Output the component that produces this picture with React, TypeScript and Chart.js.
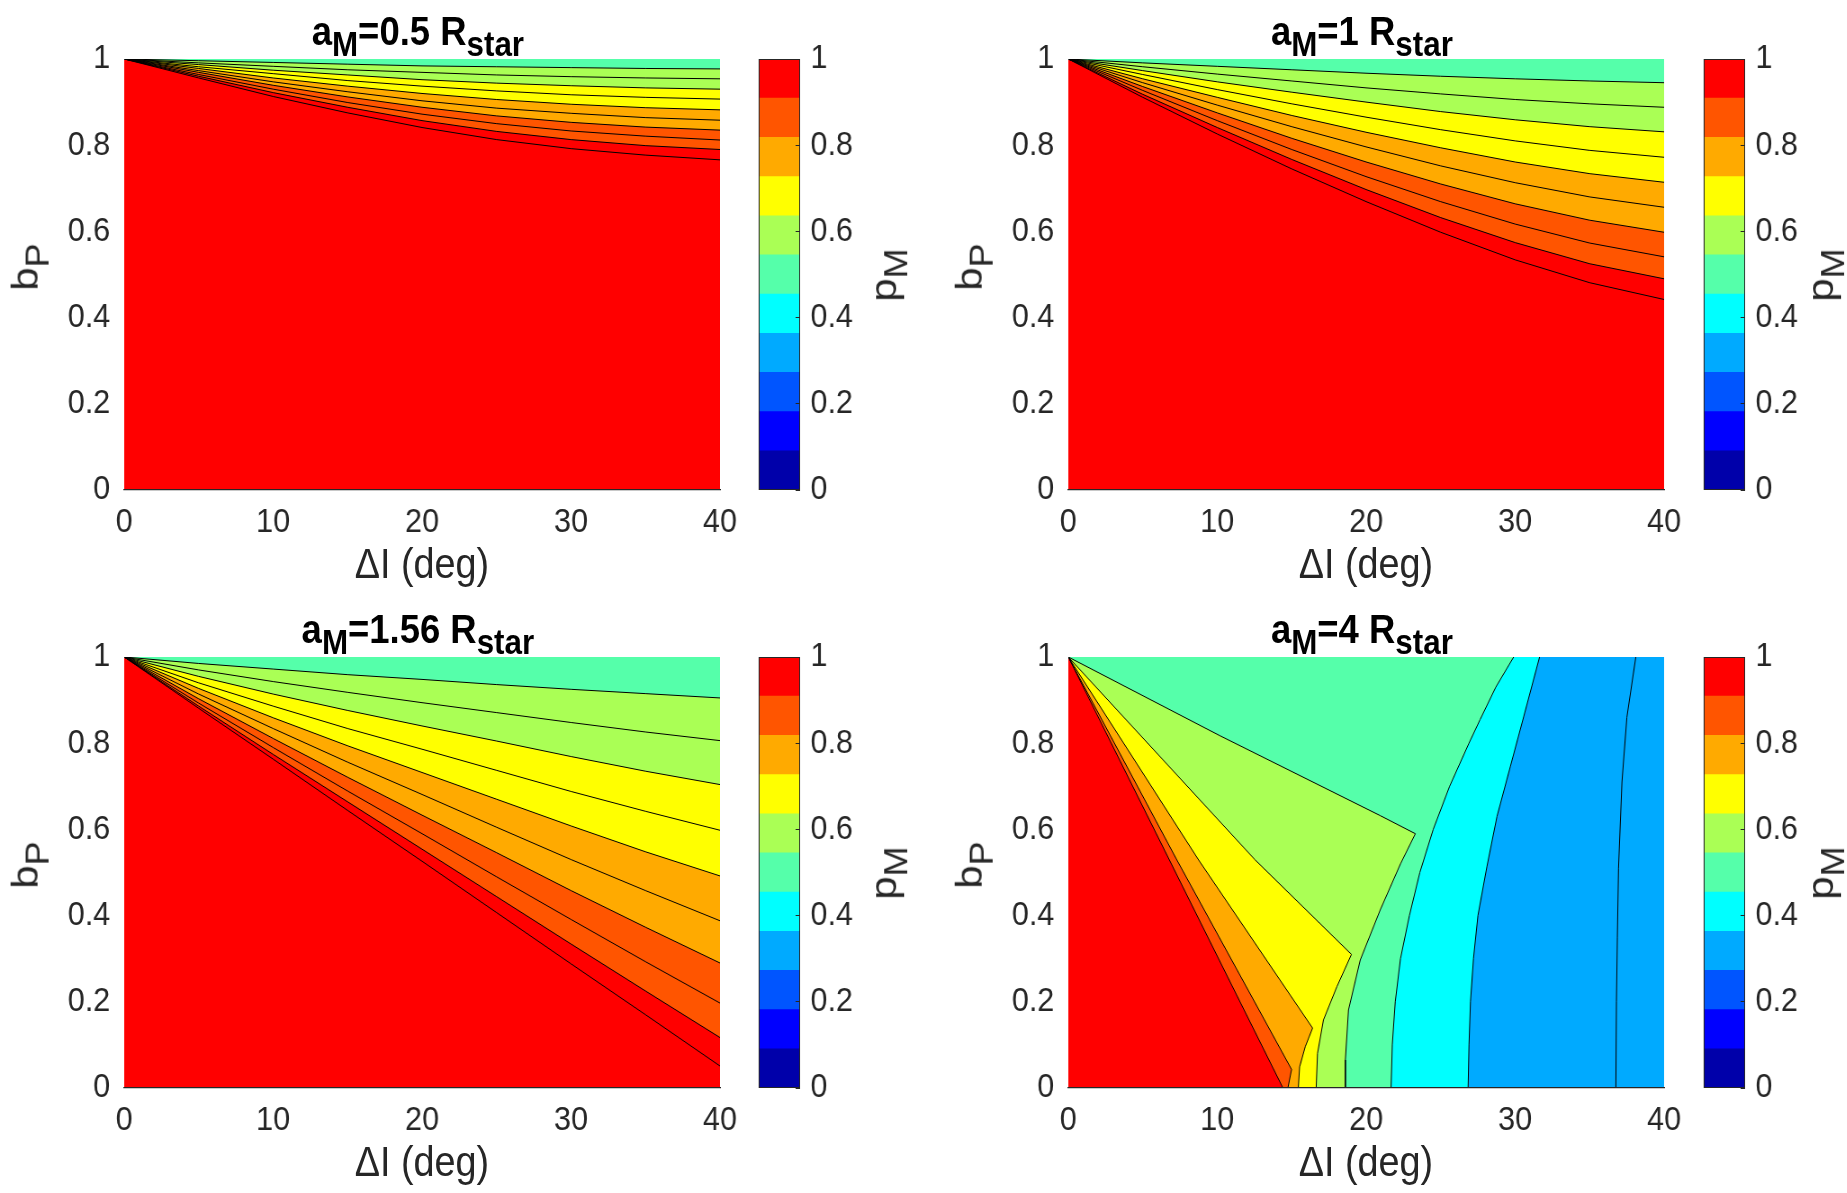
import React, { useEffect, useRef } from 'react';
import { Chart, registerables } from 'chart.js';

Chart.register(...registerables);

// ---------------- values ----------------
const aMValues = ['0.5', '1', '1.56', '4'];
const xTickValues = [0, 10, 20, 30, 40];
const yTickValues = [0, 0.2, 0.4, 0.6, 0.8, 1];
const colorbarTickValues = [0, 0.2, 0.4, 0.6, 0.8, 1];
// MATLAB jet(11) colormap, caxis [0 1]
const jet11 = ['#0000AA', '#0000FF', '#0055FF', '#00AAFF', '#00FFFF', '#55FFAA', '#AAFF55', '#FFFF00', '#FFAA00', '#FF5500', '#FF0000'];
const levelStep = 0.05;
const plateauValue = 1;
const domainX = [0, 40];
const domainY = [0, 1];

// contour sample positions (ΔI, deg) for panels 1-3
const sampleDI = [0, 5, 10, 15, 20, 25, 30, 35, 40];

// panel 1: a_M = 0.5 R_star  (b_P of each contour at sampleDI)
const panel1Levels = [0.55, 0.6, 0.65, 0.7, 0.75, 0.8, 0.85, 0.9, 0.95, 1.0];
const panel1B = [
  [1, 0.996, 0.992, 0.988, 0.984, 0.982, 0.980, 0.978, 0.977],
  [1, 0.991, 0.983, 0.975, 0.969, 0.963, 0.959, 0.956, 0.954],
  [1, 0.987, 0.974, 0.963, 0.952, 0.944, 0.938, 0.933, 0.930],
  [1, 0.982, 0.966, 0.950, 0.937, 0.926, 0.917, 0.911, 0.907],
  [1, 0.978, 0.956, 0.937, 0.920, 0.906, 0.895, 0.887, 0.882],
  [1, 0.973, 0.947, 0.924, 0.903, 0.886, 0.874, 0.864, 0.858],
  [1, 0.969, 0.939, 0.912, 0.888, 0.868, 0.853, 0.842, 0.835],
  [1, 0.964, 0.930, 0.899, 0.872, 0.850, 0.833, 0.821, 0.812],
  [1, 0.960, 0.922, 0.888, 0.857, 0.832, 0.813, 0.799, 0.790],
  [1, 0.956, 0.913, 0.875, 0.841, 0.813, 0.792, 0.777, 0.766],
];

// panel 2: a_M = 1 R_star
const panel2Levels = [0.55, 0.6, 0.65, 0.7, 0.75, 0.8, 0.85, 0.9, 0.95, 1.0];
const panel2B = [
  [1, 0.991, 0.983, 0.975, 0.967, 0.960, 0.954, 0.949, 0.945],
  [1, 0.982, 0.965, 0.949, 0.933, 0.919, 0.906, 0.896, 0.888],
  [1, 0.973, 0.947, 0.923, 0.900, 0.878, 0.859, 0.843, 0.831],
  [1, 0.964, 0.929, 0.896, 0.865, 0.836, 0.810, 0.788, 0.772],
  [1, 0.954, 0.911, 0.869, 0.830, 0.794, 0.761, 0.734, 0.714],
  [1, 0.945, 0.893, 0.843, 0.796, 0.752, 0.713, 0.680, 0.656],
  [1, 0.936, 0.875, 0.816, 0.761, 0.710, 0.664, 0.626, 0.598],
  [1, 0.927, 0.857, 0.790, 0.727, 0.669, 0.617, 0.573, 0.541],
  [1, 0.918, 0.841, 0.767, 0.697, 0.632, 0.574, 0.525, 0.490],
  [1, 0.911, 0.826, 0.745, 0.669, 0.598, 0.534, 0.481, 0.442],
];

// panel 3: a_M = 1.56 R_star
const panel3Levels = [0.55, 0.6, 0.65, 0.7, 0.75, 0.8, 0.85, 0.9, 0.95, 1.0];
const panel3B = [
  [1, 0.985, 0.972, 0.959, 0.948, 0.936, 0.925, 0.915, 0.905],
  [1, 0.970, 0.943, 0.918, 0.894, 0.871, 0.848, 0.826, 0.806],
  [1, 0.955, 0.914, 0.876, 0.840, 0.805, 0.769, 0.735, 0.704],
  [1, 0.940, 0.886, 0.834, 0.786, 0.737, 0.688, 0.642, 0.598],
  [1, 0.927, 0.859, 0.794, 0.732, 0.670, 0.608, 0.548, 0.492],
  [1, 0.914, 0.834, 0.756, 0.681, 0.605, 0.530, 0.458, 0.388],
  [1, 0.903, 0.811, 0.721, 0.633, 0.546, 0.458, 0.373, 0.290],
  [1, 0.893, 0.790, 0.689, 0.590, 0.490, 0.391, 0.293, 0.197],
  [1, 0.886, 0.774, 0.664, 0.554, 0.444, 0.334, 0.225, 0.117],
  [1, 0.881, 0.763, 0.644, 0.526, 0.407, 0.288, 0.170, 0.051],
];

// panel 4: a_M = 4 R_star  (contour paths: ΔI and b_P)
const panel4Levels = [0.95, 0.85, 0.75, 0.65, 0.55, 0.5, 0.4, 0.35];
const panel4DI = [
  [0, 14.41],
  [0, 7.29, 14.99, 14.74],
  [0, 8.75, 16.4, 15.91, 15.53, 15.44],
  [0, 12.55, 19.01, 18.03, 17.13, 16.73, 16.64],
  [0, 10.2, 20.94, 23.3, 22.3, 20.94, 19.6, 18.81, 18.6, 18.6],
  [21.67, 21.75, 21.95, 22.3, 22.9, 23.6, 24.5, 25.6, 26.9, 27.65, 28.7, 29.9],
  [26.84, 26.9, 27.0, 27.2, 27.5, 28.1, 28.78, 29.67, 30.57, 31.64],
  [36.76, 36.8, 36.86, 36.94, 37.17, 37.5, 38.1],
];
const panel4B = [
  [1, 0],
  [1, 0.529, 0.043, 0],
  [1, 0.529, 0.139, 0.096, 0.049, 0],
  [1, 0.529, 0.31, 0.235, 0.158, 0.08, 0],
  [1, 0.817, 0.632, 0.59, 0.52, 0.413, 0.297, 0.181, 0.065, 0],
  [0, 0.1, 0.2, 0.3, 0.4, 0.5, 0.6, 0.7, 0.8, 0.855, 0.93, 1],
  [0, 0.1, 0.2, 0.3, 0.4, 0.513, 0.63, 0.745, 0.861, 1],
  [0, 0.2, 0.35, 0.51, 0.71, 0.86, 1],
];

// ---------------- layout (page pixels) ----------------
const S = 0.9; // horizontal scale of the figure's text/graphics
const PAGE_W = 1847;
const PAGE_H = 1193;
const plotCols = [[124, 720], [1068, 1664]];
const plotRows = [[59, 490], [657, 1088]];
const cbarCols = [[758.5, 799.5], [1703.5, 1745]];
const cbarLabelX = [884, 1820.5];
const FONT = '"Liberation Sans", Arial, Helvetica, sans-serif';
const AX_COLOR = '#262626';
const TICK_PX = 34;
const LABEL_PX = 42;
const TITLE_PX = 40.5;
const ASC = 0.8465; // baseline offset in a line box of height 1em (Liberation Sans)

type Pt = { x: number; y: number };
type Contour = { level: number; pts: Pt[] };

function jetColor(v: number) {
  const n = jet11.length;
  const i = Math.max(0, Math.min(n - 1, Math.floor(v * n + 1e-9)));
  return jet11[i];
}

function gridContours(levels: number[], rows: number[][]): Contour[] {
  return levels.map((level, i) => ({ level, pts: sampleDI.map((x, j) => ({ x, y: rows[i][j] })) }));
}
function pathContours(levels: number[], xs: number[][], ys: number[][]): Contour[] {
  return levels.map((level, i) => ({ level, pts: xs[i].map((x, j) => ({ x, y: ys[i][j] })) }));
}

// close the low-p side of a contour along the domain's right edge
function closure(pts: Pt[]): Pt[] {
  const last = pts[pts.length - 1];
  const [, x1] = domainX;
  const [y0, y1] = domainY;
  if (last.x >= x1) return [{ x: x1, y: y1 }];
  if (last.y <= y0) return [{ x: x1, y: y0 }, { x: x1, y: y1 }];
  return [{ x: x1, y: y1 }, { x: x1, y: y0 }];
}

const NO_LINE = 'rgba(0,0,0,0)';

function contourDatasets(contours: Contour[]) {
  const ds: any[] = [];
  const [x0, x1] = domainX;
  const [y0, y1] = domainY;
  ds.push({
    data: [{ x: x0, y: y0 }, { x: x1, y: y0 }, { x: x1, y: y1 }, { x: x0, y: y1 }],
    fill: 'shape', backgroundColor: jetColor(plateauValue), borderColor: NO_LINE, borderWidth: 0, pointRadius: 0, order: 1000,
  });
  const sorted = [...contours].sort((a, b) => b.level - a.level);
  sorted.forEach((c, k) => {
    ds.push({
      data: [...c.pts, ...closure(c.pts)],
      fill: 'shape', backgroundColor: jetColor(c.level - levelStep), borderColor: NO_LINE, borderWidth: 0, pointRadius: 0, order: 900 - k,
    });
  });
  contours.forEach((c) => {
    ds.push({ data: c.pts, fill: false, borderColor: '#000000', borderWidth: 1, pointRadius: 0, order: 0 });
  });
  return ds;
}

const panels = [
  { col: 0, row: 0, aM: aMValues[0], contours: gridContours(panel1Levels, panel1B) },
  { col: 1, row: 0, aM: aMValues[1], contours: gridContours(panel2Levels, panel2B) },
  { col: 0, row: 1, aM: aMValues[2], contours: gridContours(panel3Levels, panel3B) },
  { col: 1, row: 1, aM: aMValues[3], contours: pathContours(panel4Levels, panel4DI, panel4B) },
];

const fmt = (v: number) => String(Math.round(v * 10) / 10);

// main plot geometry in un-scaled coordinates (padding kept larger than the
// axis label overhang so the chart area lands exactly where intended)
const Y_AXIS_W = 90, PAD_T = 50, X_AXIS_H = 90, PAD_R = 40;
function mainGeom(col: number, row: number) {
  const L = plotCols[col][0] / S;
  const plotW = Math.round((plotCols[col][1] - plotCols[col][0]) / S);
  const R = L + plotW;
  const T = plotRows[row][0], B = plotRows[row][1];
  const w = Y_AXIS_W + plotW + PAD_R;
  const h = PAD_T + (B - T) + X_AXIS_H;
  return { left: L - Y_AXIS_W, top: T - PAD_T, w, h, L, R, T, B };
}
const CB_AXIS_W = 90, CB_PAD = 50, CB_PAD_R = 10;
function cbarGeom(col: number, row: number) {
  const L = cbarCols[col][0] / S;
  const cw = Math.round((cbarCols[col][1] - cbarCols[col][0]) / S);
  const R = L + cw;
  const T = plotRows[row][0], B = plotRows[row][1];
  const w = cw + CB_AXIS_W + CB_PAD_R;
  const h = CB_PAD * 2 + (B - T);
  return { left: L, top: T - CB_PAD, w, h, L, R, T, B };
}

const tickFont = { family: FONT, size: TICK_PX };

function mainConfig(contours: Contour[]): any {
  return {
    type: 'line',
    data: { datasets: contourDatasets(contours) },
    options: {
      animation: false,
      responsive: false,
      events: [],
      layout: { padding: { left: 0, top: PAD_T, right: PAD_R, bottom: 0 } },
      elements: { line: { tension: 0 }, point: { radius: 0 } },
      plugins: { legend: { display: false }, tooltip: { enabled: false }, title: { display: false } },
      scales: {
        x: {
          type: 'linear', min: domainX[0], max: domainX[1],
          afterBuildTicks: (s: any) => { s.ticks = xTickValues.map((value) => ({ value })); },
          afterFit: (s: any) => { s.height = X_AXIS_H; },
          ticks: { font: tickFont, color: AX_COLOR, padding: 12, maxRotation: 0, autoSkip: false, callback: (v: number) => fmt(v) },
          grid: { display: false, drawTicks: false },
          border: { display: true, color: AX_COLOR, width: 1.2, z: 2 },
        },
        y: {
          type: 'linear', min: domainY[0], max: domainY[1],
          afterBuildTicks: (s: any) => { s.ticks = yTickValues.map((value) => ({ value })); },
          afterFit: (s: any) => { s.width = Y_AXIS_W; },
          ticks: { font: tickFont, color: AX_COLOR, padding: 15.5, autoSkip: false, callback: (v: number) => fmt(v) },
          grid: { display: false, drawTicks: false },
          border: { display: false },
        },
      },
    },
  };
}

const framePlugin = {
  id: 'cbarFrame',
  afterDatasetsDraw(chart: any) {
    const { ctx, chartArea: a } = chart;
    ctx.save();
    ctx.strokeStyle = AX_COLOR;
    ctx.lineWidth = 1;
    ctx.strokeRect(a.left + 0.5, a.top + 0.5, a.right - a.left - 1, a.bottom - a.top - 1);
    ctx.restore();
  },
};

function cbarConfig(): any {
  const n = jet11.length;
  return {
    type: 'bar',
    data: {
      labels: [''],
      datasets: jet11.map((c, i) => ({
        data: [[i / n, (i + 1) / n]],
        backgroundColor: c,
        borderWidth: 0,
        grouped: false,
        barPercentage: 1,
        categoryPercentage: 1,
      })),
    },
    options: {
      animation: false,
      responsive: false,
      events: [],
      layout: { padding: { left: 0, top: CB_PAD, right: CB_PAD_R, bottom: CB_PAD } },
      plugins: { legend: { display: false }, tooltip: { enabled: false } },
      scales: {
        x: { display: false },
        y: {
          position: 'right', min: 0, max: 1,
          afterBuildTicks: (s: any) => { s.ticks = colorbarTickValues.map((value) => ({ value })); },
          afterFit: (s: any) => { s.width = CB_AXIS_W; },
          ticks: { font: tickFont, color: AX_COLOR, padding: 16.5, autoSkip: false, callback: (v: number) => fmt(v) },
          grid: { display: true, drawOnChartArea: false, drawTicks: true, tickLength: -5, color: AX_COLOR, lineWidth: 1, z: 2 },
          border: { display: false },
        },
      },
    },
    plugins: [framePlugin],
  };
}

const subStyle: React.CSSProperties = { fontSize: '0.86em', position: 'relative', top: '0.33em' };

// horizontal text placed by its baseline
function HText({ cx, baseline, size, bold, color, children }: any) {
  return (
    <div
      style={{
        position: 'absolute', left: cx - 400, width: 800, top: baseline - ASC * size,
        textAlign: 'center', fontFamily: FONT, fontSize: size, lineHeight: `${size}px`,
        fontWeight: bold ? 'bold' : 'normal', color, whiteSpace: 'nowrap',
      }}
    >
      {children}
    </div>
  );
}

// rotated (bottom-to-top) text placed by its centre
function VText({ cx, cy, size, color, children }: any) {
  return (
    <div
      style={{
        position: 'absolute', left: cx, top: cy,
        transform: 'translate(-50%, -50%) rotate(-90deg)',
        fontFamily: FONT, fontSize: size, lineHeight: 1, color, whiteSpace: 'nowrap',
      }}
    >
      {children}
    </div>
  );
}

export default function App() {
  const canvasRefs = useRef<(HTMLCanvasElement | null)[]>([]);

  useEffect(() => {
    document.body.style.margin = '0';
    document.body.style.overflow = 'hidden';
    const charts: Chart[] = [];
    panels.forEach((p, i) => {
      const mc = canvasRefs.current[2 * i];
      const cc = canvasRefs.current[2 * i + 1];
      if (mc) charts.push(new Chart(mc, mainConfig(p.contours)));
      if (cc) charts.push(new Chart(cc, cbarConfig()));
    });
    return () => charts.forEach((c) => c.destroy());
  }, []);

  return (
    <div
      style={{
        position: 'absolute', left: 0, top: 0, width: PAGE_W / S, height: PAGE_H,
        transform: `scaleX(${S})`, transformOrigin: '0 0', background: '#ffffff',
      }}
    >
      {panels.map((p, i) => {
        const g = mainGeom(p.col, p.row);
        const c = cbarGeom(p.col, p.row);
        const cx = (g.L + g.R) / 2;
        const cy = (g.T + g.B) / 2;
        const colShift = (plotCols[p.col][0] - plotCols[0][0]) / S;
        return (
          <React.Fragment key={i}>
            <canvas
              ref={(el) => { canvasRefs.current[2 * i] = el; }}
              width={g.w}
              height={g.h}
              style={{ position: 'absolute', left: g.left, top: g.top, width: g.w, height: g.h }}
            />
            <canvas
              ref={(el) => { canvasRefs.current[2 * i + 1] = el; }}
              width={c.w}
              height={c.h}
              style={{ position: 'absolute', left: c.left, top: c.top, width: c.w, height: c.h }}
            />
            <HText cx={cx - 4 / S} baseline={g.T - 14} size={TITLE_PX} bold color="#000000">
              a<span style={subStyle}>M</span>={p.aM} R<span style={subStyle}>star</span>
            </HText>
            <HText cx={cx} baseline={g.B + 89} size={LABEL_PX} color={AX_COLOR}>
              ΔI (deg)
            </HText>
            <VText cx={25 / S + colShift} cy={cy - 8} size={LABEL_PX} color={AX_COLOR}>
              b<span style={subStyle}>P</span>
            </VText>
            <VText cx={cbarLabelX[p.col] / S} cy={cy} size={LABEL_PX} color={AX_COLOR}>
              p<span style={subStyle}>M</span>
            </VText>
          </React.Fragment>
        );
      })}
    </div>
  );
}
